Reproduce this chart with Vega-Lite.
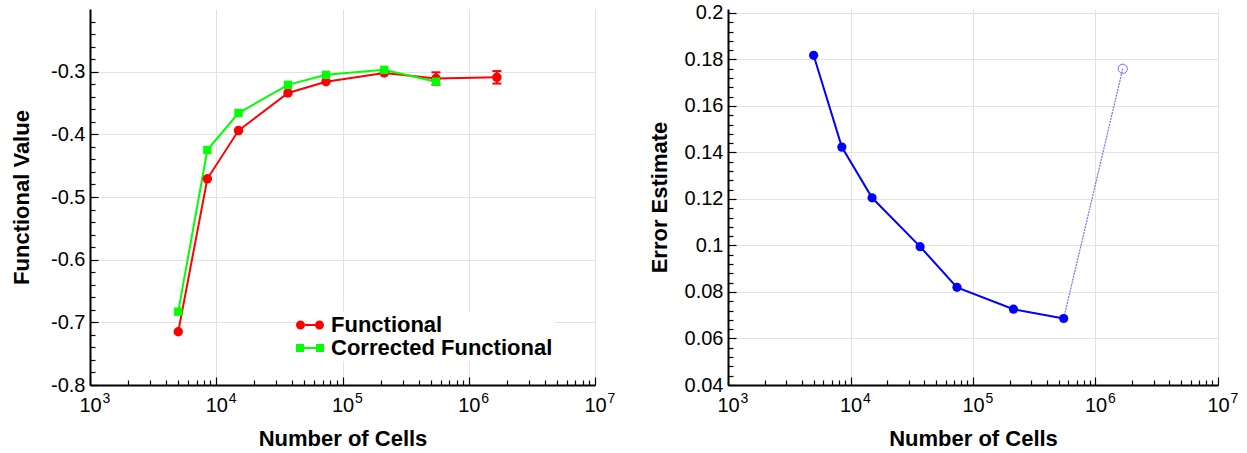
{
  "$schema": "https://vega.github.io/schema/vega-lite/v6.json",
  "background": "white",
  "padding": {"left": 10, "top": 2, "right": 5, "bottom": 5},
  "config": {
    "font": "Liberation Sans",
    "view": {"stroke": null},
    "axis": {
      "labelFont": "Liberation Sans", "labelFontSize": 20, "labelColor": "black",
      "titleFont": "Liberation Sans", "titleFontSize": 22, "titleFontWeight": "bold", "titleColor": "black",
      "domainColor": "black", "domainWidth": 2, "tickColor": "black", "tickWidth": 1.2, "tickCount": 500,
      "gridColor": "#e2e2e2", "gridWidth": 1, "labelOverlap": false, "labelFlush": false, "labelBound": false
    },
    "concat": {"spacing": 33}
  },
  "datasets": {
    "functional": [
      {"cells": 5000, "value": -0.715, "series": "Functional"},
      {"cells": 8500, "value": -0.471, "series": "Functional"},
      {"cells": 15000, "value": -0.394, "series": "Functional"},
      {"cells": 37000, "value": -0.334, "series": "Functional"},
      {"cells": 74000, "value": -0.316, "series": "Functional"},
      {"cells": 214000, "value": -0.302, "series": "Functional"},
      {"cells": 550000, "value": -0.311, "lo": -0.321, "hi": -0.301, "series": "Functional"},
      {"cells": 1670000, "value": -0.309, "lo": -0.319, "hi": -0.299, "series": "Functional"},
      {"cells": 5000, "value": -0.683, "series": "Corrected Functional"},
      {"cells": 8500, "value": -0.425, "series": "Corrected Functional"},
      {"cells": 15000, "value": -0.366, "series": "Corrected Functional"},
      {"cells": 37000, "value": -0.321, "series": "Corrected Functional"},
      {"cells": 74000, "value": -0.305, "series": "Corrected Functional"},
      {"cells": 214000, "value": -0.297, "series": "Corrected Functional"},
      {"cells": 550000, "value": -0.316, "series": "Corrected Functional"}
    ],
    "error": [
      {"cells": 5000, "err": 0.1818, "part": "computed"},
      {"cells": 8500, "err": 0.1423, "part": "computed"},
      {"cells": 15000, "err": 0.1205, "part": "computed"},
      {"cells": 37000, "err": 0.0995, "part": "computed"},
      {"cells": 74000, "err": 0.082, "part": "computed"},
      {"cells": 214000, "err": 0.0726, "part": "computed"},
      {"cells": 550000, "err": 0.0686, "part": "computed"},
      {"cells": 550000, "err": 0.0686, "part": "extrapolated"},
      {"cells": 1670000, "err": 0.176, "part": "extrapolated"}
    ]
  },
  "hconcat": [
    {
      "width": 505,
      "height": 376,
      "data": {"name": "functional"},
      "resolve": {"axis": {"x": "independent"}},
      "layer": [
        {
          "mark": {"type": "line", "strokeWidth": 2},
          "encoding": {
            "x": {
              "field": "cells", "type": "quantitative",
              "scale": {"type": "log", "domain": [1000, 10000000]},
              "axis": {
                "orient": "bottom",
                "title": "Number of Cells", "titlePadding": 10,
                "values": [1000,2000,3000,4000,5000,6000,7000,8000,9000,10000,20000,30000,40000,50000,60000,70000,80000,90000,100000,200000,300000,400000,500000,600000,700000,800000,900000,1000000,2000000,3000000,4000000,5000000,6000000,7000000,8000000,9000000,10000000],
                "labelExpr": "abs(log(datum.value)/LN10 - round(log(datum.value)/LN10)) < 1e-6 ? '10' : ''",
                "gridOpacity": {"condition": {"test": "abs(log(datum.value)/LN10 - round(log(datum.value)/LN10)) < 1e-6", "value": 1}, "value": 0},
                "tickSize": {"condition": {"test": "abs(log(datum.value)/LN10 - round(log(datum.value)/LN10)) < 1e-6", "value": -8}, "value": -5},
                "labelPadding": 18
              }
            },
            "y": {
              "field": "value", "type": "quantitative",
              "scale": {"domain": [-0.8, -0.2], "nice": false, "zero": false},
              "axis": {
                "title": "Functional Value", "titlePadding": 17,
                "values": [-0.8,-0.78,-0.76,-0.74,-0.72,-0.7,-0.68,-0.66,-0.64,-0.62,-0.6,-0.58,-0.56,-0.54,-0.52,-0.5,-0.48,-0.46,-0.44,-0.42,-0.4,-0.38,-0.36,-0.34,-0.32,-0.3,-0.28,-0.26,-0.24,-0.22],
                "labelExpr": "abs(datum.value*10 - round(datum.value*10)) < 1e-6 ? '-' + format(abs(datum.value), '.1f') : ''",
                "gridOpacity": {"condition": {"test": "abs(datum.value*10 - round(datum.value*10)) < 1e-6", "value": 1}, "value": 0},
                "tickSize": {"condition": {"test": "abs(datum.value*10 - round(datum.value*10)) < 1e-6", "value": -8}, "value": -5},
                "labelPadding": 13
              }
            },
            "color": {
              "field": "series", "type": "nominal",
              "scale": {"domain": ["Functional", "Corrected Functional"], "range": ["#ff0000", "#00ff00"]},
              "legend": {
                "orient": "none", "legendX": 207, "legendY": 303, "title": null,
                "labelFont": "Liberation Sans", "labelFontSize": 22, "labelFontWeight": "bold", "labelColor": "black",
                "labelLimit": 400, "symbolSize": 400, "fillColor": "white", "padding": 2, "rowPadding": 1, "labelOffset": 10,
                "encode": {
                  "symbols": {
                    "update": {
                      "shape": {"signal": "datum.value === 'Functional' ? 'M-1.4,0A0.45,0.45,0,1,1,-0.5,0A0.45,0.45,0,1,1,-1.4,0ZM0.5,0A0.45,0.45,0,1,1,1.4,0A0.45,0.45,0,1,1,0.5,0ZM-0.5,-0.1H0.5V0.1H-0.5Z' : 'M-1.4,-0.4H-0.6V0.4H-1.4ZM0.6,-0.4H1.4V0.4H0.6ZM-0.6,-0.1H0.6V0.1H-0.6Z'"},
                      "fill": {"signal": "datum.value === 'Functional' ? '#ff0000' : '#00ff00'"},
                      "strokeWidth": {"value": 0},
                      "opacity": {"value": 1}
                    }
                  }
                }
              }
            }
          }
        },
        {
          "transform": [{"filter": "isValid(datum.lo)"}],
          "mark": {"type": "rule", "color": "#ff0000", "strokeWidth": 2},
          "encoding": {
            "x": {"field": "cells", "type": "quantitative", "axis": null},
            "y": {"field": "lo", "type": "quantitative"},
            "y2": {"field": "hi"}
          }
        },
        {
          "transform": [{"filter": "isValid(datum.lo)"}],
          "mark": {"type": "tick", "orient": "horizontal", "color": "#ff0000", "thickness": 2, "size": 9, "opacity": 1},
          "encoding": {
            "x": {"field": "cells", "type": "quantitative", "axis": null},
            "y": {"field": "lo", "type": "quantitative"}
          }
        },
        {
          "transform": [{"filter": "isValid(datum.hi)"}],
          "mark": {"type": "tick", "orient": "horizontal", "color": "#ff0000", "thickness": 2, "size": 9, "opacity": 1},
          "encoding": {
            "x": {"field": "cells", "type": "quantitative", "axis": null},
            "y": {"field": "hi", "type": "quantitative"}
          }
        },
        {
          "transform": [{"filter": "datum.series === 'Functional'"}],
          "mark": {"type": "point", "filled": true, "opacity": 1, "size": 90, "shape": "circle", "color": "#ff0000"},
          "encoding": {
            "x": {
              "field": "cells", "type": "quantitative",
              "axis": {
                "orient": "bottom", "title": null, "domain": false, "ticks": false, "grid": false,
                "values": [1000,10000,100000,1000000,10000000],
                "labelExpr": "format(round(log(datum.value)/LN10), 'd')",
                "labelFontSize": 14, "labelPadding": 6, "labelOffset": 16
              }
            },
            "y": {"field": "value", "type": "quantitative"}
          }
        },
        {
          "transform": [{"filter": "datum.series === 'Corrected Functional'"}],
          "mark": {"type": "point", "filled": true, "opacity": 1, "size": 70, "shape": "square", "color": "#00ff00"},
          "encoding": {
            "x": {"field": "cells", "type": "quantitative", "axis": null},
            "y": {"field": "value", "type": "quantitative"}
          }
        }
      ]
    },
    {
      "width": 490,
      "height": 376,
      "data": {"name": "error"},
      "resolve": {"axis": {"x": "independent"}},
      "layer": [
        {
          "transform": [{"filter": "datum.part === 'computed'"}],
          "mark": {"type": "line", "color": "#0000ff", "strokeWidth": 2},
          "encoding": {
            "x": {
              "field": "cells", "type": "quantitative",
              "scale": {"type": "log", "domain": [1000, 10000000]},
              "axis": {
                "orient": "bottom",
                "title": "Number of Cells", "titlePadding": 10,
                "values": [1000,2000,3000,4000,5000,6000,7000,8000,9000,10000,20000,30000,40000,50000,60000,70000,80000,90000,100000,200000,300000,400000,500000,600000,700000,800000,900000,1000000,2000000,3000000,4000000,5000000,6000000,7000000,8000000,9000000,10000000],
                "labelExpr": "abs(log(datum.value)/LN10 - round(log(datum.value)/LN10)) < 1e-6 ? '10' : ''",
                "gridOpacity": {"condition": {"test": "abs(log(datum.value)/LN10 - round(log(datum.value)/LN10)) < 1e-6", "value": 1}, "value": 0},
                "tickSize": {"condition": {"test": "abs(log(datum.value)/LN10 - round(log(datum.value)/LN10)) < 1e-6", "value": -8}, "value": -5},
                "labelPadding": 18
              }
            },
            "y": {
              "field": "err", "type": "quantitative",
              "scale": {"domain": [0.04, 0.2017], "nice": false, "zero": false},
              "axis": {
                "title": "Error Estimate", "titlePadding": 13,
                "values": [0.04,0.044,0.048,0.052,0.056,0.06,0.064,0.068,0.072,0.076,0.08,0.084,0.088,0.092,0.096,0.1,0.104,0.108,0.112,0.116,0.12,0.124,0.128,0.132,0.136,0.14,0.144,0.148,0.152,0.156,0.16,0.164,0.168,0.172,0.176,0.18,0.184,0.188,0.192,0.196,0.2],
                "labelExpr": "abs(datum.value*50 - round(datum.value*50)) < 1e-6 ? format(datum.value, '~g') : ''",
                "gridOpacity": {"condition": {"test": "abs(datum.value*50 - round(datum.value*50)) < 1e-6", "value": 1}, "value": 0},
                "tickSize": {"condition": {"test": "abs(datum.value*50 - round(datum.value*50)) < 1e-6", "value": -8}, "value": -5},
                "labelPadding": 13
              }
            }
          }
        },
        {
          "transform": [{"filter": "datum.part === 'extrapolated'"}],
          "mark": {"type": "line", "color": "#7070ff", "strokeWidth": 1.2, "strokeDash": [2, 1]},
          "encoding": {
            "x": {"field": "cells", "type": "quantitative", "axis": null},
            "y": {"field": "err", "type": "quantitative"}
          }
        },
        {
          "transform": [{"filter": "datum.part === 'computed'"}],
          "mark": {"type": "point", "filled": true, "opacity": 1, "size": 85, "color": "#0000ff", "shape": "circle"},
          "encoding": {
            "x": {
              "field": "cells", "type": "quantitative",
              "axis": {
                "orient": "bottom", "title": null, "domain": false, "ticks": false, "grid": false,
                "values": [1000,10000,100000,1000000,10000000],
                "labelExpr": "format(round(log(datum.value)/LN10), 'd')",
                "labelFontSize": 14, "labelPadding": 6, "labelOffset": 16
              }
            },
            "y": {"field": "err", "type": "quantitative"}
          }
        },
        {
          "transform": [{"filter": "datum.part === 'extrapolated' && datum.cells > 1000000"}],
          "mark": {"type": "point", "filled": false, "opacity": 1, "size": 85, "color": "#7070ff", "strokeWidth": 1, "shape": "circle"},
          "encoding": {
            "x": {"field": "cells", "type": "quantitative", "axis": null},
            "y": {"field": "err", "type": "quantitative"}
          }
        }
      ]
    }
  ]
}
